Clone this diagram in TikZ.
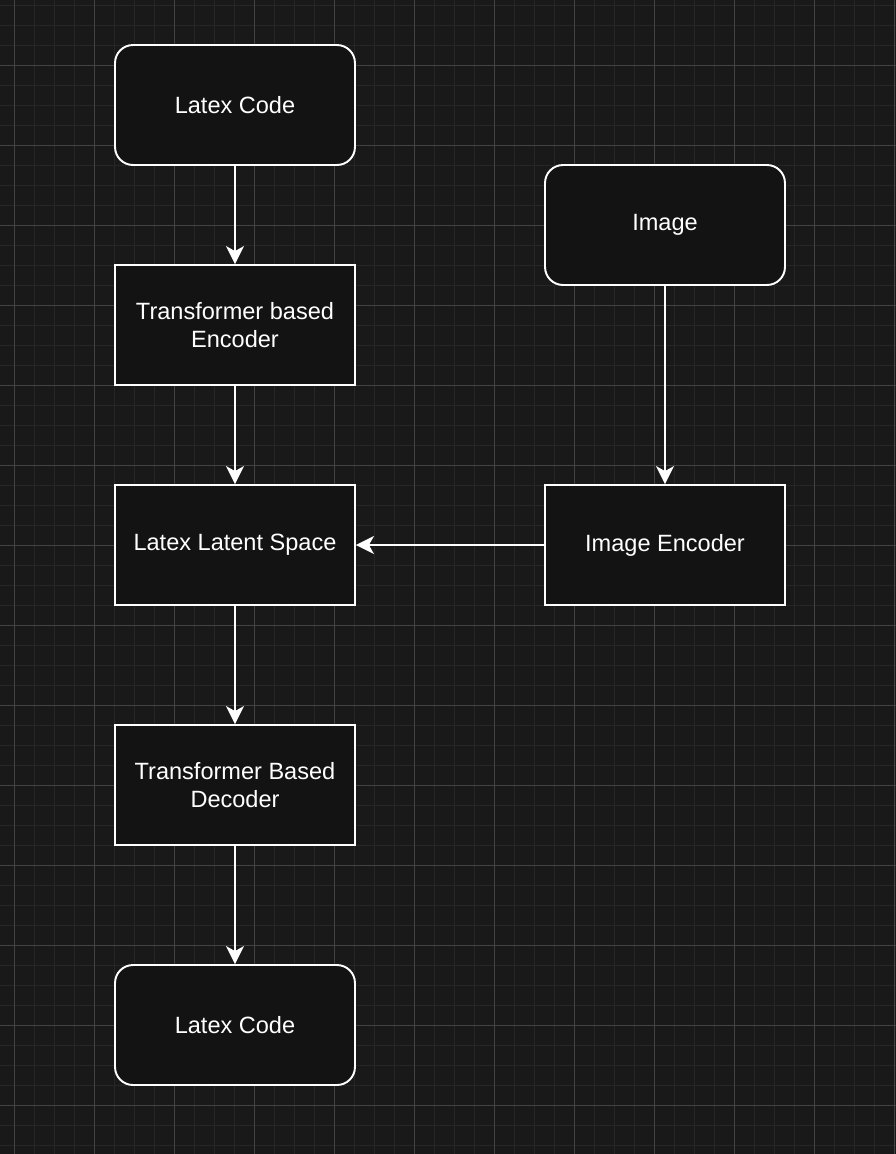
\documentclass[tikz,border=0pt]{standalone}
\usepackage{fontspec}
\setmainfont{Liberation Sans}
\usetikzlibrary{arrows.meta, positioning}

\definecolor{bgcol}{RGB}{25,25,25}
\definecolor{boxcol}{RGB}{19,19,19}
\definecolor{minorcol}{RGB}{38,38,38}
\definecolor{majorcol}{RGB}{66,66,66}

\tikzset{
  block/.style={draw=white, fill=boxcol, line width=1.1pt, text=white,
    minimum width=4.8cm, minimum height=2.4cm, align=center,
    font=\fontsize{13.4}{16.4}\selectfont},
  roundblock/.style={block, rounded corners=0.36cm},
  flow/.style={draw=white, line width=1.1pt,
    -{Stealth[length=0.36cm, width=0.36cm, inset=0.1cm]}}
}

\begin{document}
\begin{tikzpicture}[x=0.02cm, y=-0.02cm]

\fill[bgcol] (0,0) rectangle (896,1154);
\useasboundingbox (0,0) rectangle (896,1154);
\foreach \x in {14,34,...,894} % minor grid, vertical
\draw[minorcol, line width=0.5pt] (\x,0) -- (\x,1154);
\foreach \y in {5,25,...,1145} % minor grid, horizontal
\draw[minorcol, line width=0.5pt] (0,\y) -- (896,\y);
\foreach \x in {14,94,...,894} % major grid
\draw[majorcol, line width=0.5pt] (\x,0) -- (\x,1154);
\foreach \y in {65,145,...,1145}
\draw[majorcol, line width=0.5pt] (0,\y) -- (896,\y);

\node[roundblock] (code) at (235,105) {Latex Code};
\node[block] (enc) at (235,325) {Transformer based\\Encoder};
\node[block] (latent) at (235,545) {Latex Latent Space};
\node[block] (dec) at (235,785) {Transformer Based\\Decoder};
\node[roundblock] (out) at (235,1025) {Latex Code};
\node[roundblock] (img) at (665,225) {Image};
\node[block] (imgenc) at (665,545) {Image Encoder};

\draw[flow] (code) -- (enc);
\draw[flow] (enc) -- (latent);
\draw[flow] (latent) -- (dec);
\draw[flow] (dec) -- (out);
\draw[flow] (img) -- (imgenc);
\draw[flow] (imgenc) -- (latent);

\end{tikzpicture}
\end{document}
